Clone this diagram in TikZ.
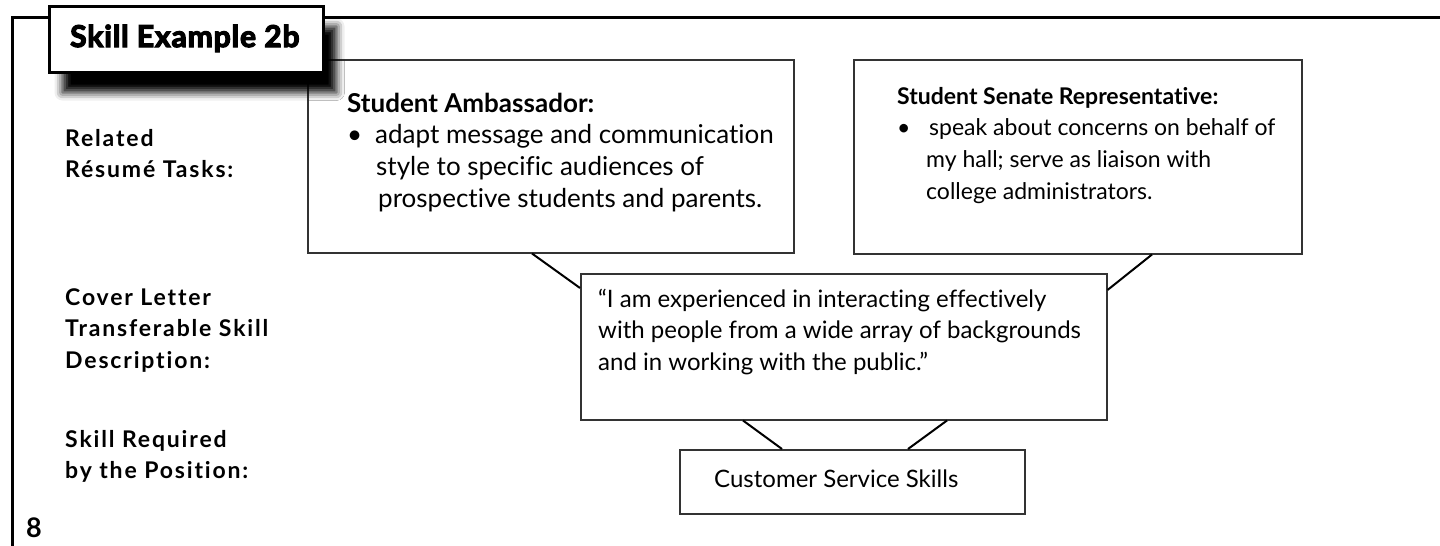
\documentclass[tikz,border=0pt]{standalone}
\usepackage{fontspec}
\setmainfont{Lato}[Ligatures=NoCommon]
\newfontfamily\titlefont{Lato}[Ligatures=NoCommon, BoldFeatures={FakeBold=4}, LetterSpace=3]
\newfontfamily\labelfont{Lato}[Ligatures=NoCommon, LetterSpace=8]
\usetikzlibrary{shadows.blur}
\newcommand{\stack}[1]{\vtop{\baselineskip=31.7pt\lineskiplimit=-50pt #1}}
\tikzset{
  frameline/.style={line width=3pt, draw=black},
  box/.style={draw=black!80, line width=1.5pt, fill=white, anchor=north west, inner sep=0pt},
  titlebox/.style={draw=black, line width=3pt, fill=white, anchor=north west, inner sep=0pt,
    blur shadow={shadow xshift=13pt, shadow yshift=-20pt, shadow blur radius=8pt, shadow opacity=100}},
  link/.style={draw=black, line width=2pt},
  txt/.style={anchor=base west, inner sep=0pt},
  lbl/.style={anchor=base west, inner sep=0pt, font=\labelfont\fontsize{23}{31.7}\selectfont\bfseries},
}
\begin{document}
\begin{tikzpicture}[x=1pt, y=-1pt]
\useasboundingbox (0,0) rectangle (1440,546);
% outer frame
\coordinate (ftl) at (12,17);
\coordinate (fbl) at (12,547);
\coordinate (ftr) at (1441,17);
\draw[frameline] (fbl) -- (ftl) -- (ftr);
% boxes
\node[box, minimum width=486pt, minimum height=193pt] (amb) at (307,59) {};
\node[titlebox, minimum width=274pt, minimum height=66pt] (title) at (48,5) {};
\node[anchor=base west, inner sep=0pt, font=\titlefont\fontsize{30}{36}\selectfont\bfseries] (titletext) at (70,47) {Skill Example 2b};
\node[box, minimum width=448pt, minimum height=194pt] (sen) at (853,59) {};
\node[box, minimum width=526pt, minimum height=146pt] (quote) at (580,273) {};
\node[box, minimum width=345pt, minimum height=64pt] (cust) at (679,449) {};
% connectors
\draw[link] ([xshift=225pt]amb.south west) -- ([yshift=-15pt]quote.north west);
\draw[link] ([xshift=299pt]sen.south west) -- ([yshift=-17pt]quote.north east);
\draw[link] ([xshift=163pt]quote.south west) -- ([xshift=103pt]cust.north west);
\draw[link] ([xshift=367pt]quote.south west) -- ([xshift=229pt]cust.north west);
% box texts
\node[txt, font=\fontsize{26}{31.7}\selectfont] (ambtext) at (347,112) {\stack{%
  \hbox{\bfseries Student Ambassador:}%
  \hbox{\makebox[28pt][l]{•}adapt message and communication}%
  \hbox{\hspace{29pt}style to specific audiences of}%
  \hbox{\hspace{31pt}prospective students and parents.}}};
\node[txt, font=\fontsize{23}{31.7}\selectfont] (sentext) at (897,104) {\stack{%
  \hbox{\bfseries Student Senate Representative:}%
  \hbox{\makebox[32pt][l]{•}speak about concerns on behalf of}%
  \hbox{\hspace{29pt}my hall; serve as liaison with}%
  \hbox{\hspace{29pt}college administrators.}}};
\node[txt, font=\fontsize{24}{31.7}\selectfont] (quotetext) at (598,307) {\stack{%
  \hbox{“I am experienced in interacting effectively}%
  \hbox{with people from a wide array of backgrounds}%
  \hbox{and in working with the public.”}}};
\node[txt, font=\fontsize{24}{31.7}\selectfont] (custtext) at (714,487) {Customer Service Skills};
% left labels
\node[lbl] (l1) at (65,146) {\stack{\hbox{Related}\hbox{Résumé Tasks:}}};
\node[lbl] (l2) at (65,305) {\stack{\hbox{Cover Letter}\hbox{Transferable Skill}\hbox{Description:}}};
\node[lbl] (l3) at (65,447) {\stack{\hbox{Skill Required}\hbox{by the Position:}}};
\node[anchor=base west, inner sep=0pt, font=\fontsize{27}{30}\selectfont\bfseries] (page) at (26,537) {8};
\end{tikzpicture}
\end{document}
